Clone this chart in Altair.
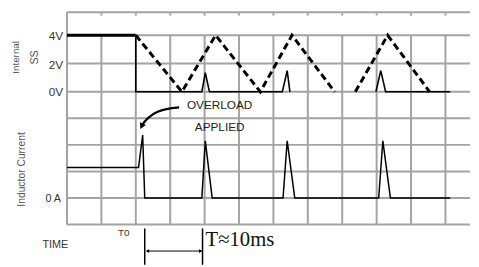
import altair as alt
import pandas as pd

# ---- data (time in ms relative to T0) ----
ss_hold_t = [-10, 0]
ss_hold_v = [4, 4]
ss_solid_t = [0, 0, 9.6, 10.1, 10.7, 21.3, 22.0, 22.4, 34.9, 35.6, 36.3, 45.7]
ss_solid_v = [4, 0, 0, 1.35, 0, 0, 1.5, 0, 0, 1.5, 0, 0]
ss_solid_seg = [0, 0, 0, 0, 0, 0, 0, 0, 1, 1, 1, 1]
ss_ramp_t = [0, 6.7, 11.6, 18.1, 22.7, 28.9, 31.9, 36.6, 42.7]
ss_ramp_v = [4, 0, 4, 0, 4, 0, 0, 4, 0]
ss_ramp_seg = [0, 0, 0, 0, 0, 0, 1, 1, 1]
il_t = [-10, 0.4, 1.0, 1.3, 9.6, 10.1, 11.1, 21.4, 22.0, 23.1, 35.3, 35.9, 37.0, 45.7]
il_v = [1.15, 1.15, 2.37, 0, 0, 2.15, 0, 0, 2.15, 0, 0, 2.15, 0, 0]
grid_t = [-10, -5, 0, 5, 10, 15, 20, 25, 30, 35, 40, 45]
ss_ticks = [4, 2, 0]
il_rows = [3, 2, 1, 0, -1]
arrow_t = [6.3, 4.6, 3.1, 2.0, 1.15, 0.85]
arrow_v = [3.41, 3.37, 3.26, 3.07, 2.85, 2.70]
period_t = [1.3, 9.7]

# ---- layout ----
W, H = 410, 257
PX_PER_MS = 7.0
SS_ZERO, SS_PX = 81.0, 14.375
IL_ZERO, IL_PX = 189.0, 27.0
GRID = "#a3a3a3"
FONT = "Liberation Sans"

xdom = [-10, -10 + W / PX_PER_MS]
ss_dom = [-(H - SS_ZERO) / SS_PX, SS_ZERO / SS_PX]
il_dom = [-(H - IL_ZERO) / IL_PX, IL_ZERO / IL_PX]

X = lambda f: alt.X(f, scale=alt.Scale(domain=xdom, nice=False, zero=False), axis=None)
YSS = lambda f: alt.Y(f, scale=alt.Scale(domain=ss_dom, nice=False, zero=False), axis=None)
YIL = lambda f: alt.Y(f, scale=alt.Scale(domain=il_dom, nice=False, zero=False), axis=None)

df_hold = pd.DataFrame({"t": ss_hold_t, "v": ss_hold_v})
df_solid = pd.DataFrame({"t": ss_solid_t, "v": ss_solid_v, "seg": ss_solid_seg,
                         "i": range(len(ss_solid_t))})
df_ramp = pd.DataFrame({"t": ss_ramp_t, "v": ss_ramp_v, "seg": ss_ramp_seg,
                        "i": range(len(ss_ramp_t))})
df_il = pd.DataFrame({"t": il_t, "v": il_v, "i": range(len(il_t))})
df_grid = pd.DataFrame({"t": grid_t})
df_ssr = pd.DataFrame({"v": ss_ticks})
df_ilr = pd.DataFrame({"v": il_rows})
df_arrow = pd.DataFrame({"t": arrow_t, "v": arrow_v, "i": range(len(arrow_t))})
df_per = pd.DataFrame({"t": period_t})
one = pd.DataFrame({"a": [0]})

layers = []
# grid
layers.append(alt.Chart(df_grid).mark_rule(color=GRID, strokeWidth=2).encode(
    x=X("t:Q"), y=alt.value(23.5), y2=alt.value(216)))
layers.append(alt.Chart(df_grid).mark_rule(color=GRID, strokeWidth=2).encode(
    x=X("t:Q"), y=alt.value(1), y2=alt.value(3.5)))
layers.append(alt.Chart(one).mark_rule(color=GRID, strokeWidth=2).encode(
    x=alt.value(0), y=alt.value(0), y2=alt.value(216)))
layers.append(alt.Chart(one).mark_rule(color=GRID, strokeWidth=2).encode(
    x=alt.value(0), x2=alt.value(W), y=alt.value(0)))
layers.append(alt.Chart(df_ssr).mark_rule(color=GRID, strokeWidth=2).encode(
    x=alt.value(0), x2=alt.value(W), y=YSS("v:Q")))
layers.append(alt.Chart(df_ilr).mark_rule(color=GRID, strokeWidth=2).encode(
    x=alt.value(0), x2=alt.value(W), y=YIL("v:Q")))

# signals
layers.append(alt.Chart(df_ramp).mark_line(color="black", strokeWidth=3, strokeDash=[7, 4]).encode(
    x=X("t:Q"), y=YSS("v:Q"), detail="seg:N", order="i:Q"))
layers.append(alt.Chart(df_solid).mark_line(color="black", strokeWidth=1.6).encode(
    x=X("t:Q"), y=YSS("v:Q"), detail="seg:N", order="i:Q"))
layers.append(alt.Chart(df_hold).mark_line(color="black", strokeWidth=3).encode(
    x=X("t:Q"), y=YSS("v:Q")))
layers.append(alt.Chart(df_il).mark_line(color="black", strokeWidth=1.5).encode(
    x=X("t:Q"), y=YIL("v:Q"), order="i:Q"))

# overload arrow
layers.append(alt.Chart(df_arrow).mark_line(color="black", strokeWidth=2.2, interpolate="basis").encode(
    x=X("t:Q"), y=YIL("v:Q"), order="i:Q"))
layers.append(alt.Chart(df_arrow.tail(1)).mark_point(shape="triangle-down", filled=True, color="black",
                                                     size=45, angle=25, opacity=1).encode(
    x=X("t:Q"), y=YIL("v:Q")))

# period marker
layers.append(alt.Chart(df_per).mark_rule(color="black", strokeWidth=1.5).encode(
    x=X("t:Q"), y=alt.value(220), y2=alt.value(H)))
layers.append(alt.Chart(one).mark_rule(color="black", strokeWidth=1).encode(
    x=alt.value(81), x2=alt.value(137), y=alt.value(243)))
layers.append(alt.Chart(one).mark_point(shape="triangle-left", filled=True, color="black",
                                        size=14, opacity=1).encode(x=alt.value(82), y=alt.value(243)))
layers.append(alt.Chart(one).mark_point(shape="triangle-right", filled=True, color="black",
                                        size=14, opacity=1).encode(x=alt.value(136), y=alt.value(243)))

# texts
labels = [
    ("4V", -4, 24, 12, 0, "right", FONT, "#333"),
    ("2V", -4, 54, 12, 0, "right", FONT, "#333"),
    ("0V", -4, 81, 12, 0, "right", FONT, "#333"),
    ("0 A", -6, 190, 11, 0, "right", FONT, "#333"),
    ("Internal", -52, 46, 10, 270, "center", FONT, "#555"),
    ("SS", -32, 46, 11, 270, "center", FONT, "#555"),
    ("Inductor Current", -46, 160, 10.5, 270, "center", FONT, "#555"),
    ("TIME", -25, 237, 11, 0, "left", FONT, "#333"),
    ("T0", 52, 225, 10, 0, "left", FONT, "#333"),
    ("OVERLOAD", 122, 95, 12, 0, "left", FONT, "#222"),
    ("APPLIED", 130, 117, 12, 0, "left", FONT, "#222"),
    ("T\u224810ms", 141, 232, 21, 0, "left", "Liberation Serif", "#111"),
]
for txt, x, y, size, ang, al, fnt, col in labels:
    layers.append(alt.Chart(one).mark_text(text=txt, fontSize=size, angle=ang, align=al,
                                           baseline="middle", font=fnt, color=col).encode(
        x=alt.value(x), y=alt.value(y)))

chart = alt.layer(*layers).resolve_scale(y="independent").properties(
    width=W, height=H, autosize=alt.AutoSizeParams(type="none"),
    padding={"left": 60, "top": 2, "right": 1, "bottom": 0},
).configure_view(stroke=None)

chart.save("out.html", embed_options={"renderer": "svg", "actions": False})
